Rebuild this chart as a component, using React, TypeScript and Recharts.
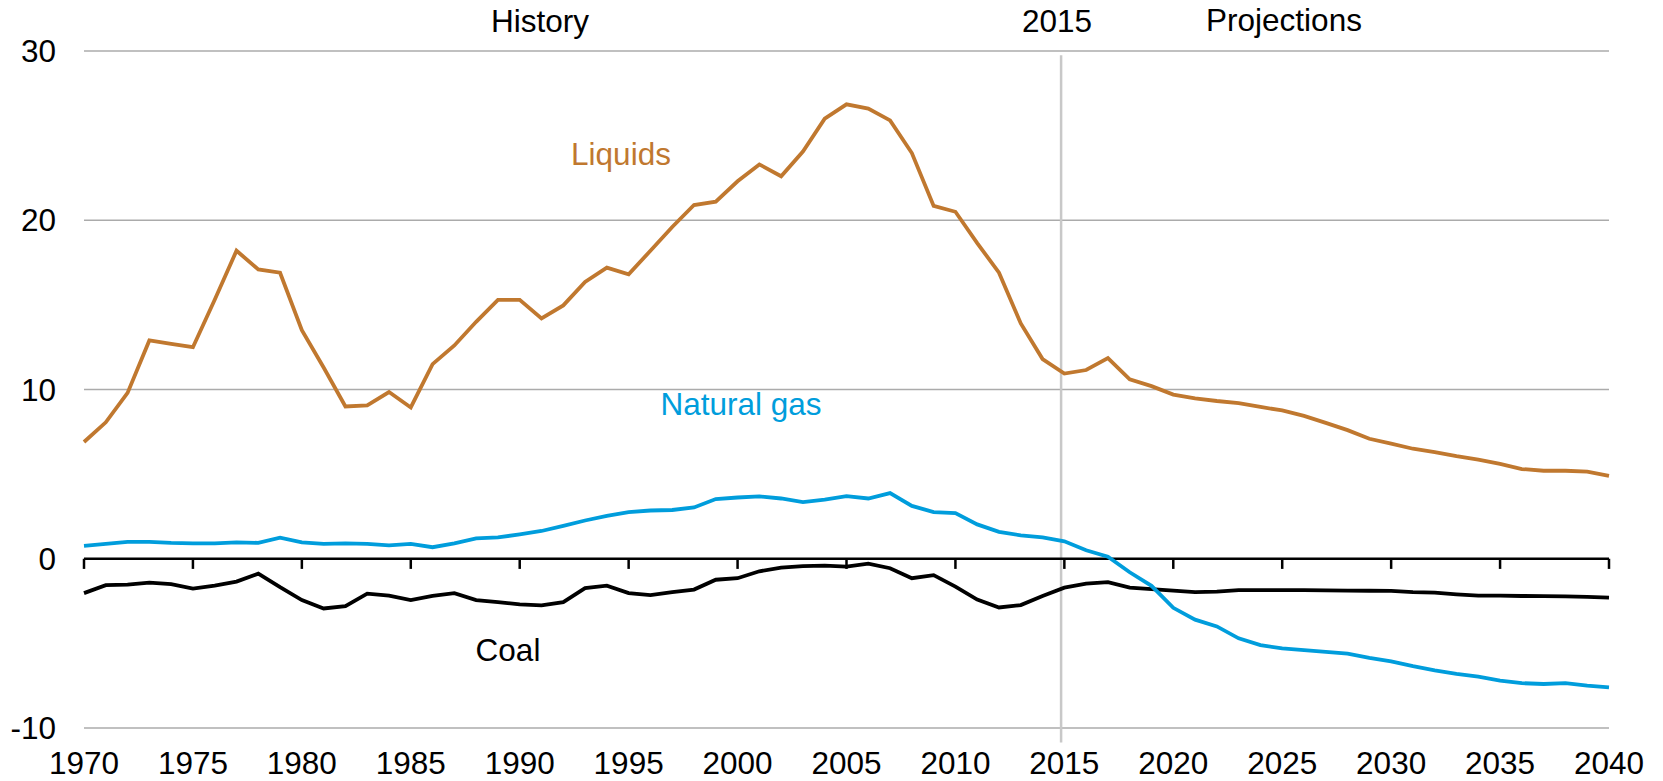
import React from "react";
import { LineChart, Line, XAxis, YAxis, CartesianGrid, ReferenceLine } from "recharts";

// years 1970..2040
const years = [
  1970, 1971, 1972, 1973, 1974, 1975, 1976, 1977, 1978, 1979,
  1980, 1981, 1982, 1983, 1984, 1985, 1986, 1987, 1988, 1989,
  1990, 1991, 1992, 1993, 1994, 1995, 1996, 1997, 1998, 1999,
  2000, 2001, 2002, 2003, 2004, 2005, 2006, 2007, 2008, 2009,
  2010, 2011, 2012, 2013, 2014, 2015, 2016, 2017, 2018, 2019,
  2020, 2021, 2022, 2023, 2024, 2025, 2026, 2027, 2028, 2029,
  2030, 2031, 2032, 2033, 2034, 2035, 2036, 2037, 2038, 2039,
  2040,
];

const liquids = [
  6.9, 8.06, 9.8, 12.9, 12.7, 12.5, 15.3, 18.2, 17.1, 16.9,
  13.5, 11.3, 9.0, 9.06, 9.85, 8.94, 11.5, 12.6, 14.0, 15.3,
  15.3, 14.2, 14.97, 16.35, 17.2, 16.8, 18.2, 19.6, 20.9, 21.1,
  22.3, 23.3, 22.6, 24.06, 26.0, 26.85, 26.6, 25.9, 23.97, 20.85,
  20.5, 18.65, 16.9, 13.9, 11.8, 10.94, 11.15, 11.85, 10.6, 10.2,
  9.7, 9.47, 9.32, 9.2, 8.97, 8.76, 8.44, 8.03, 7.6, 7.09,
  6.8, 6.5, 6.3, 6.06, 5.85, 5.6, 5.3, 5.2, 5.2, 5.15,
  4.9,
];

const naturalGas = [
  0.76, 0.88, 1.0, 1.0, 0.94, 0.91, 0.91, 0.97, 0.94, 1.24,
  0.97, 0.88, 0.91, 0.88, 0.79, 0.88, 0.68, 0.91, 1.2, 1.26,
  1.44, 1.64, 1.94, 2.26, 2.53, 2.76, 2.85, 2.88, 3.03, 3.53,
  3.62, 3.68, 3.56, 3.35, 3.5, 3.7, 3.56, 3.88, 3.12, 2.76,
  2.7, 2.03, 1.59, 1.38, 1.26, 1.03, 0.5, 0.12, -0.8, -1.6,
  -2.9, -3.6, -4.0, -4.7, -5.1, -5.3, -5.4, -5.5, -5.6, -5.85,
  -6.06, -6.35, -6.6, -6.8, -6.97, -7.2, -7.35, -7.4, -7.35, -7.5,
  -7.6,
];

const coal = [
  -2.03, -1.56, -1.53, -1.41, -1.5, -1.76, -1.59, -1.35, -0.88, -1.68,
  -2.44, -2.94, -2.8, -2.06, -2.18, -2.44, -2.2, -2.03, -2.44, -2.56,
  -2.7, -2.76, -2.56, -1.74, -1.59, -2.03, -2.15, -1.97, -1.82, -1.24,
  -1.15, -0.74, -0.53, -0.44, -0.41, -0.47, -0.29, -0.56, -1.15, -0.97,
  -1.65, -2.41, -2.88, -2.74, -2.2, -1.71, -1.47, -1.38, -1.71, -1.79,
  -1.88, -1.97, -1.94, -1.85, -1.85, -1.85, -1.85, -1.87, -1.88, -1.89,
  -1.9, -1.97, -2.0, -2.1, -2.18, -2.18, -2.2, -2.21, -2.22, -2.25,
  -2.3,
];

const xTicks = [1970, 1975, 1980, 1985, 1990, 1995, 2000, 2005, 2010, 2015, 2020, 2025, 2030, 2035, 2040];
const yTicks = [-10, 0, 10, 20, 30];

const data = years.map((year, i) => ({
  year,
  liquids: liquids[i],
  gas: naturalGas[i],
  coal: coal[i],
}));

const FONT = "Arial, 'Liberation Sans', sans-serif";
const FS = 31.5;
const LIQ = "#C0782F";
const GAS = "#009DDC";

export default function App() {
  return (
    <div style={{ position: "absolute", left: 0, top: 0, width: 1663, height: 781, background: "#fff", fontFamily: FONT }}>
      <LineChart width={1663} height={781} data={data} margin={{ top: 51, right: 54, bottom: 0, left: 0 }}>
        <CartesianGrid vertical={false} stroke="#ABABAB" strokeWidth={1.5} horizontalValues={[30, 20, 10, -10]} />
        <XAxis
          dataKey="year"
          type="number"
          domain={[1970, 2040]}
          ticks={xTicks}
          axisLine={false}
          tickLine={false}
          tickSize={0}
          tickMargin={24}
          height={53}
          interval={0}
          tick={{ fontSize: FS, fill: "#000", fontFamily: FONT }}
        />
        <YAxis
          type="number"
          domain={[-10, 30]}
          ticks={yTicks}
          axisLine={false}
          tickLine={false}
          tickSize={0}
          tickMargin={28}
          width={84}
          interval={0}
          tick={{ fontSize: FS, fill: "#000", fontFamily: FONT }}
        />
        <ReferenceLine
          segment={[{ x: 2014.85, y: 29.75 }, { x: 2014.85, y: -10.85 }]}
          stroke="#C8C8C8"
          strokeWidth={2.5}
          ifOverflow="visible"
        />
        <ReferenceLine y={0} stroke="#000" strokeWidth={2.5} />
        {xTicks.map((t) => (
          <ReferenceLine
            key={t}
            segment={[{ x: t, y: 0 }, { x: t, y: -0.6 }]}
            stroke="#000"
            strokeWidth={2.5}
            ifOverflow="visible"
          />
        ))}
        <Line type="linear" dataKey="coal" stroke="#000" strokeWidth={3.8} dot={false} isAnimationActive={false} />
        <Line type="linear" dataKey="gas" stroke={GAS} strokeWidth={3.8} dot={false} isAnimationActive={false} />
        <Line type="linear" dataKey="liquids" stroke={LIQ} strokeWidth={3.8} dot={false} isAnimationActive={false} />
      </LineChart>
      <svg width={1663} height={781} style={{ position: "absolute", left: 0, top: 0, pointerEvents: "none" }}>
        <g fontFamily={FONT} fontSize={FS} textAnchor="middle">
          <text x={540} y={32} fill="#000">History</text>
          <text x={1057} y={32} fill="#000">2015</text>
          <text x={1284} y={31} fill="#000">Projections</text>
          <text x={621} y={165} fill={LIQ}>Liquids</text>
          <text x={741} y={415} fill={GAS}>Natural gas</text>
          <text x={508} y={661} fill="#000">Coal</text>
        </g>
      </svg>
    </div>
  );
}
